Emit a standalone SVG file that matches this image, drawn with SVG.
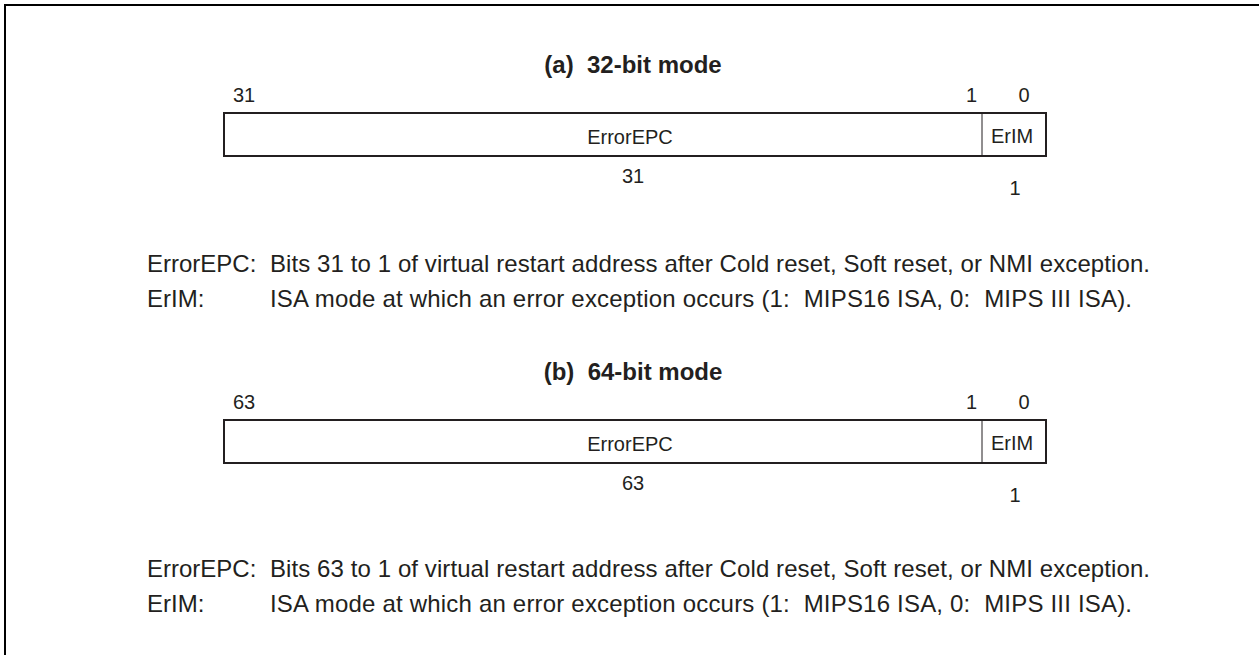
<svg xmlns="http://www.w3.org/2000/svg" width="1259" height="655" viewBox="0 0 1259 655">
<style>
text{font-family:"Liberation Sans",Arial,sans-serif;fill:#231f20}
.t{font-size:24px;font-weight:bold;text-anchor:middle;white-space:pre}
.s{font-size:20px}
.m{font-size:20px;text-anchor:middle}
.d{font-size:24px;white-space:pre}
.box{fill:#fff;stroke:#231f20;stroke-width:2}
.div{stroke:#231f20;stroke-width:1}
</style>
<rect width="1259" height="655" fill="#fff"/>
<path d="M5 655 V5 H1259" fill="none" stroke="#000" stroke-width="2"/>
<g id="reg-a">
<text class="t" x="633" y="73" xml:space="preserve">(a)  32-bit mode</text>
<text class="s" x="233" y="102">31</text>
<text class="s" x="966" y="102">1</text>
<text class="m" x="1024" y="102">0</text>
<rect class="box" x="224" y="113" width="822" height="43"/>
<line class="div" x1="982" y1="113" x2="982" y2="156"/>
<text class="m" x="630" y="144">ErrorEPC</text>
<text class="m" x="1012" y="143">ErIM</text>
<text class="m" x="633" y="183">31</text>
<text class="m" x="1015" y="195">1</text>
</g>
<g id="desc-a">
<text class="d" x="147" y="272">ErrorEPC:</text>
<text class="d" x="270" y="272" textLength="880" lengthAdjust="spacing">Bits 31 to 1 of virtual restart address after Cold reset, Soft reset, or NMI exception.</text>
<text class="d" x="147" y="307">ErIM:</text>
<text class="d" x="270" y="307" textLength="862" lengthAdjust="spacing" xml:space="preserve">ISA mode at which an error exception occurs (1:  MIPS16 ISA, 0:  MIPS III ISA).</text>
</g>
<g id="reg-b">
<text class="t" x="633" y="380" xml:space="preserve">(b)  64-bit mode</text>
<text class="s" x="233" y="409">63</text>
<text class="s" x="966" y="409">1</text>
<text class="m" x="1024" y="409">0</text>
<rect class="box" x="224" y="420" width="822" height="43"/>
<line class="div" x1="982" y1="420" x2="982" y2="463"/>
<text class="m" x="630" y="451">ErrorEPC</text>
<text class="m" x="1012" y="450">ErIM</text>
<text class="m" x="633" y="490">63</text>
<text class="m" x="1015" y="502">1</text>
</g>
<g id="desc-b">
<text class="d" x="147" y="577">ErrorEPC:</text>
<text class="d" x="270" y="577" textLength="880" lengthAdjust="spacing">Bits 63 to 1 of virtual restart address after Cold reset, Soft reset, or NMI exception.</text>
<text class="d" x="147" y="612">ErIM:</text>
<text class="d" x="270" y="612" textLength="862" lengthAdjust="spacing" xml:space="preserve">ISA mode at which an error exception occurs (1:  MIPS16 ISA, 0:  MIPS III ISA).</text>
</g>
</svg>
